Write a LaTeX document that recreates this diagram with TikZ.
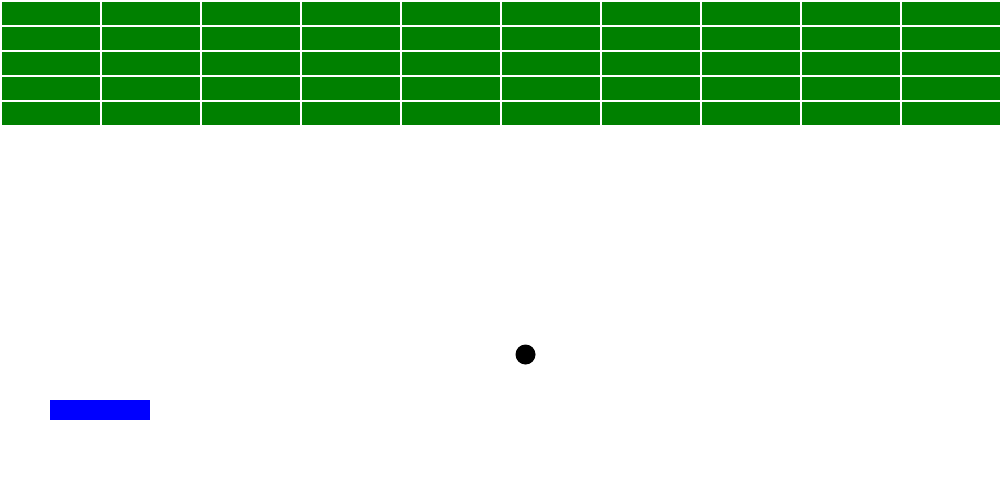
\documentclass[tikz,border=0pt]{standalone}
\definecolor{brickgreen}{HTML}{008000}
\begin{document}
\begin{tikzpicture}[x=1pt,y=-1pt]
    \useasboundingbox[fill=white] (0,0) rectangle (1002,480);
    \foreach \x in {0,1,...,9} { \foreach \y in {0,1,...,4} {
        \fill[color=brickgreen] (2+100*\x,2+25*\y) rectangle ++(98,23);
    } }
    \fill[color=blue] (50,400) rectangle (150,420);
    \fill[color=black] (525.5,354.5) circle (10);
\end{tikzpicture}
\end{document}
